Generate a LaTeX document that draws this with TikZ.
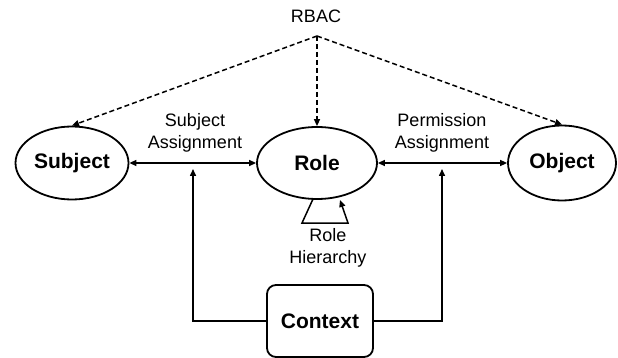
\documentclass[tikz,border=0pt]{standalone}
\usepackage{fontspec}
\setmainfont{Liberation Sans}
\usetikzlibrary{shapes.geometric,arrows.meta}
\begin{document}
\begin{tikzpicture}[x=1pt,y=-1pt,
  ent/.style={ellipse,draw,line width=1.8pt,inner sep=0pt,
    font=\fontsize{21}{25}\selectfont\bfseries},
  ctxbox/.style={draw,line width=1.8pt,rounded corners=9pt,inner sep=0pt,
    minimum width=106pt,minimum height=72pt,
    font=\fontsize{21}{25}\selectfont\bfseries},
  lbl/.style={align=center,font=\fontsize{18}{22}\selectfont},
  tip/.style={-{Triangle[length=7pt,width=6pt]}},
  link/.style={line width=1.5pt},
  dashlink/.style={line width=1.5pt,dash pattern=on 5pt off 3pt}]
\useasboundingbox (0,0) rectangle (618,358);

% entities
\node[ent,minimum width=113pt,minimum height=73pt] (subj) at (72,163) {Subject};
\node[ent,minimum width=120pt,minimum height=72pt] (role) at (317,163) {Role};
\node[ent,minimum width=108pt,minimum height=75pt] (obj) at (562,163) {Object};
\node[ctxbox] (ctx) at (320,321) {Context};

% RBAC title and fan-out
\node[lbl] (rbac) at (316,16) {RBAC};
\coordinate (apex) at (317,36);
\draw[dashlink,tip] (apex) -- (subj.north);
\draw[dashlink,tip] (apex) -- (role.north);
\draw[dashlink,tip] (apex) -- (obj.north);

% assignments
\draw[link,{Triangle[length=7pt,width=6pt]}-{Triangle[length=7pt,width=6pt]}] (subj.east) -- (role.west);
\draw[link,{Triangle[length=7pt,width=6pt]}-{Triangle[length=7pt,width=6pt]}] (role.east) -- (obj.west);
\node[lbl] (sa) at (195,133) {Subject\\Assignment};
\node[lbl] (pa) at (442,133) {Permission\\Assignment};

% context constraints
\coordinate (sahit) at (193,169);
\coordinate (pahit) at (442,169);
\draw[link,tip] (ctx.west) -| (sahit);
\draw[link,tip] (ctx.east) -| (pahit);

% role hierarchy self-loop
\coordinate (rh1) at (313,199);
\coordinate (rh2) at (302,223);
\coordinate (rh3) at (348,223);
\coordinate (rh4) at (340,200);
\draw[link,tip] (rh1) -- (rh2) -- (rh3) -- (rh4);
\node[lbl] (rh) at (328,248) {Role\\Hierarchy};
\end{tikzpicture}
\end{document}
